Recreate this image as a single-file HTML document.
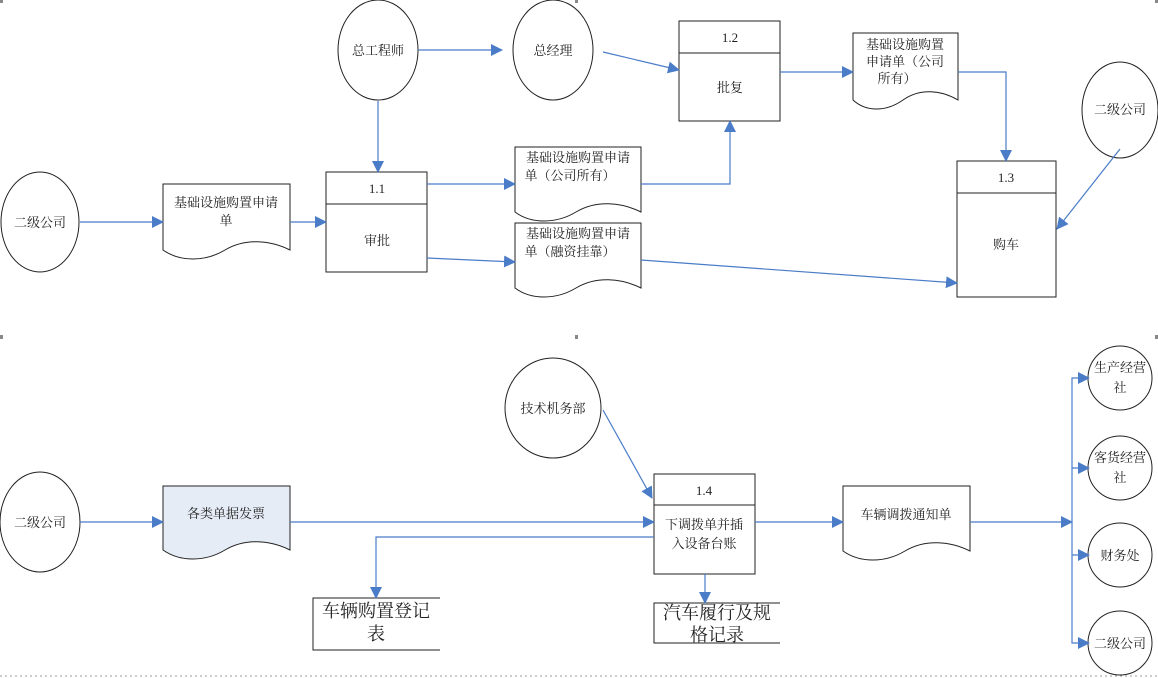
<!DOCTYPE html>
<html><head><meta charset="utf-8"><style>
html,body{margin:0;padding:0;background:#fff;}
svg{display:block;}
text{font-family:"Liberation Serif","Noto Serif CJK SC","Noto Sans CJK SC",serif;font-size:13px;fill:#222;}
</style></head><body>
<svg width="1158" height="678" viewBox="0 0 1158 678" xmlns="http://www.w3.org/2000/svg">
<defs>
<marker id="a" markerWidth="12" markerHeight="12" refX="11" refY="6" orient="auto" markerUnits="userSpaceOnUse"><path d="M0,0 L12,6 L0,12 z" fill="#4a7cc7"/></marker>
</defs>
<g stroke="#999" stroke-width="1" stroke-dasharray="2,3">
<line x1="0" y1="676" x2="1158" y2="676"/>
</g>
<g fill="#888"><rect x="0" y="0" width="3" height="3"/><rect x="575" y="0" width="3" height="3"/><rect x="1155" y="0" width="3" height="3"/><rect x="0" y="335" width="3" height="4"/><rect x="1155" y="335" width="3" height="4"/><rect x="575" y="335" width="3" height="4"/></g>

<g fill="#fff" stroke="#222" stroke-width="1">
<ellipse cx="378" cy="50" rx="40" ry="50"/>
<ellipse cx="553" cy="50" rx="40" ry="50"/>
<ellipse cx="40" cy="222" rx="39" ry="50"/>
<ellipse cx="1120" cy="110" rx="38" ry="48"/>
<ellipse cx="553" cy="408" rx="48" ry="50"/>
<ellipse cx="40" cy="522" rx="40" ry="50"/>
<ellipse cx="1120" cy="378" rx="32" ry="32"/>
<ellipse cx="1120" cy="468" rx="32" ry="32"/>
<ellipse cx="1120" cy="555" rx="32" ry="32"/>
<ellipse cx="1120" cy="643" rx="32" ry="32"/>
<rect x="326" y="172" width="101" height="100"/><line x1="326" y1="204" x2="427" y2="204"/>
<rect x="679" y="21" width="101" height="100"/><line x1="679" y1="53" x2="780" y2="53"/>
<rect x="957" y="161" width="99" height="136"/><line x1="957" y1="193" x2="1056" y2="193"/>
<rect x="654" y="474" width="101" height="100"/><line x1="654" y1="505" x2="755" y2="505"/>
<path d="M163,184 H290 V250 C270,240 245,238 225,250 C205,262 180,262 163,250 Z"/>
<path d="M515,147 H641 V212 C621,202 596,200 576,212 C556,224 531,224 515,212 Z"/>
<path d="M515,223 H641 V288 C621,278 596,276 576,288 C556,300 531,300 515,288 Z"/>
<path d="M853,33 H958 V100 C941,90 920,88 903,100 C886,112 866,112 853,100 Z"/>
<path d="M163,486 H290 V550 C270,540 245,538 225,550 C205,562 180,562 163,550 Z" fill="#e6ecf6"/>
<path d="M843,486 H970 V551 C950,541 925,539 905,551 C885,563 860,563 843,551 Z"/>
</g>
<g stroke="#222" fill="none">
<path d="M440,598 H313 V650 H440"/>
<path d="M780,603 H654 V643 H780"/>
</g>

<g stroke="#4a7cc7" stroke-width="1.2" fill="none" marker-end="url(#a)">
<line x1="418" y1="50" x2="502" y2="50"/>
<line x1="378" y1="101" x2="378" y2="172"/>
<line x1="80" y1="222" x2="163" y2="222"/>
<line x1="290" y1="222" x2="326" y2="222"/>
<line x1="427" y1="184" x2="515" y2="184"/>
<line x1="427" y1="258" x2="515" y2="262"/>
<polyline points="641,184 730,184 730,121"/>
<line x1="603" y1="52" x2="679" y2="70"/>
<line x1="780" y1="72" x2="853" y2="72"/>
<polyline points="958,72 1006,72 1006,161"/>
<line x1="1120" y1="149" x2="1057" y2="229"/>
<line x1="641" y1="260" x2="957" y2="283"/>
<line x1="80" y1="522" x2="163" y2="522"/>
<line x1="290" y1="522" x2="654" y2="522"/>
<polyline points="654,537 376,537 376,598"/>
<line x1="603" y1="410" x2="652" y2="498"/>
<line x1="705" y1="574" x2="705" y2="603"/>
<line x1="755" y1="522" x2="843" y2="522"/>
<line x1="970" y1="522" x2="1072" y2="522"/>
<polyline points="1072,522 1072,378 1089,378"/>
<polyline points="1072,468 1089,468"/>
<polyline points="1072,555 1089,555"/>
<polyline points="1072,522 1072,643 1089,643"/>
</g>

<g text-anchor="middle">
<text x="378" y="55">总工程师</text>
<text x="553" y="55">总经理</text>
<text x="40" y="227">二级公司</text>
<text x="1120" y="114">二级公司</text>
<text x="553" y="413">技术机务部</text>
<text x="40" y="527">二级公司</text>
<text x="1120" y="372">生产经营</text><text x="1120" y="392">社</text>
<text x="1120" y="462">客货经营</text><text x="1120" y="482">社</text>
<text x="1120" y="560">财务处</text>
<text x="1120" y="648">二级公司</text>
<text x="377" y="193">1.1</text><text x="377" y="245">审批</text>
<text x="730" y="42">1.2</text><text x="730" y="92">批复</text>
<text x="1006" y="182">1.3</text><text x="1006" y="249">购车</text>
<text x="704" y="495">1.4</text>
<text x="704" y="529">下调拨单并插</text><text x="704" y="548">入设备台账</text>
<text x="226" y="207">基础设施购置申请</text><text x="226" y="225">单</text>
<text x="578" y="162">基础设施购置申请</text><text x="570" y="180">单（公司所有）</text>
<text x="578" y="238">基础设施购置申请</text><text x="570" y="256">单（融资挂靠）</text>
<text x="905" y="49">基础设施购置</text><text x="905" y="66">申请单（公司</text><text x="897" y="83">所有）</text>
<text x="226" y="518">各类单据发票</text>
<text x="906" y="519">车辆调拨通知单</text>
<text x="376" y="617" style="font-size:18px">车辆购置登记</text><text x="376" y="640" style="font-size:18px">表</text>
<text x="717" y="619" style="font-size:18px">汽车履行及规</text><text x="717" y="641" style="font-size:18px">格记录</text>
</g>
</svg>
</body></html>
